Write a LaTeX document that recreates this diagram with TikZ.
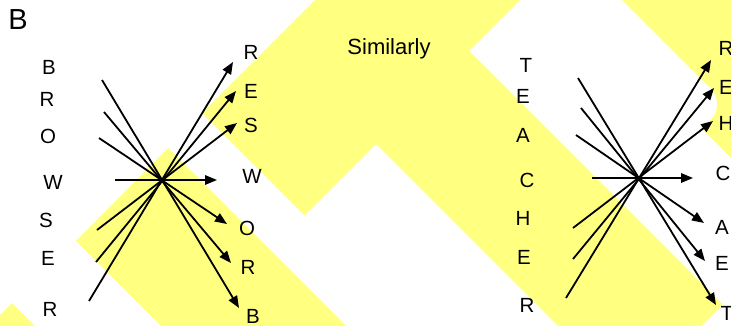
\documentclass[tikz,border=0pt]{standalone}
\usepackage{fontspec}
\setmainfont{Liberation Sans}
\usetikzlibrary{arrows.meta}
\definecolor{bandyellow}{RGB}{255,255,128}
\begin{document}
\begin{tikzpicture}[x=1pt,y=-1pt,
  letter/.style={inner sep=0pt, font=\fontsize{20.5}{21}\selectfont},
  ray/.style={line width=1.8pt, -{Triangle[length=12pt,width=9.5pt]}},
  band/.style={fill=bandyellow, draw=none}]
\useasboundingbox (0,0) rectangle (731,326);
\clip (0,0) rectangle (731,326);
% background bands
\fill[band] (0,315) -- (12,303) -- (35,326) -- (0,326) -- cycle;
\fill[band] (76,241) -- (168,148) -- (346,326) -- (161,326) -- cycle;
\fill[band] (315,0) -- (202,113) -- (304.5,215.5) -- (376,144) -- (629.5,397.5)
  -- (722.5,304.5) -- (469,51) -- (520,0) -- cycle;
\fill[band] (622,0) -- (705,83) .. controls (722,95) and (722,118) .. (700,127)
  -- (731,158) -- (731,0) -- cycle;
% titles
\node[font=\fontsize{29}{30}\selectfont, inner sep=0pt] (panel) at (18,20) {B};
\node[font=\fontsize{22}{23}\selectfont, inner sep=0pt, anchor=base] (sim) at (389,55) {Similarly};
% left diagram letters
\node[letter] (a1) at (49,67) {B};
\node[letter] (a2) at (47,99) {R};
\node[letter] (a3) at (48,136) {O};
\node[letter] (a4) at (53,182) {W};
\node[letter] (a5) at (46,220) {S};
\node[letter] (a6) at (48,258) {E};
\node[letter] (a7) at (50,309) {R};
\node[letter] (b1) at (251,52) {R};
\node[letter] (b2) at (251,91) {E};
\node[letter] (b3) at (251,125) {S};
\node[letter] (b4) at (252,176) {W};
\node[letter] (b5) at (247,228) {O};
\node[letter] (b6) at (248,267) {R};
\node[letter] (b7) at (253,316) {B};
% left diagram rays
\coordinate (ls1) at (102,80);  \coordinate (le1) at (239,308);
\coordinate (ls2) at (104,112); \coordinate (le2) at (231,263);
\coordinate (ls3) at (99,138);  \coordinate (le3) at (227,224);
\coordinate (ls4) at (115,180); \coordinate (le4) at (217,180);
\coordinate (ls5) at (97,230);  \coordinate (le5) at (237,123);
\coordinate (ls6) at (96,262);  \coordinate (le6) at (236,91);
\coordinate (ls7) at (89,301);  \coordinate (le7) at (233,62);
\foreach \i in {1,...,7} { \draw[ray] (ls\i) -- (le\i); }
% right diagram letters
\node[letter] (c1) at (526,65) {T};
\node[letter] (c2) at (523,96) {E};
\node[letter] (c3) at (523,135) {A};
\node[letter] (c4) at (527,180) {C};
\node[letter] (c5) at (523,218) {H};
\node[letter] (c6) at (524,257) {E};
\node[letter] (c7) at (527,305) {R};
\node[letter] (d1) at (726,48) {R};
\node[letter] (d2) at (726,87) {E};
\node[letter] (d3) at (726,123) {H};
\node[letter] (d4) at (723,173) {C};
\node[letter] (d5) at (722,227) {A};
\node[letter] (d6) at (722,263) {E};
\node[letter] (d7) at (727,313) {T};
% right diagram rays
\coordinate (rs1) at (578,78);  \coordinate (re1) at (716,305);
\coordinate (rs2) at (581,108); \coordinate (re2) at (705,261);
\coordinate (rs3) at (576,135); \coordinate (re3) at (704,223);
\coordinate (rs4) at (592,178); \coordinate (re4) at (693,178);
\coordinate (rs5) at (573,228); \coordinate (re5) at (713,121);
\coordinate (rs6) at (573,259); \coordinate (re6) at (714,88);
\coordinate (rs7) at (566,298); \coordinate (re7) at (711,60);
\foreach \i in {1,...,7} { \draw[ray] (rs\i) -- (re\i); }
\end{tikzpicture}
\end{document}
